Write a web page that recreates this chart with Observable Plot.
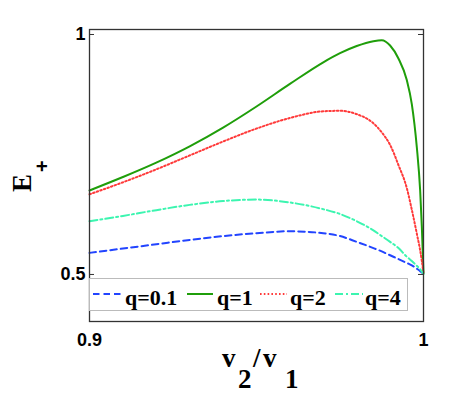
<!DOCTYPE html>
<html><head><meta charset="utf-8">
<script src="https://cdn.jsdelivr.net/npm/d3@7"></script>
<script src="https://cdn.jsdelivr.net/npm/@observablehq/plot@0.6"></script>
<style>body{margin:0;background:#fff}</style>
</head><body><div id="chart"></div>
<script>
const xs = [0.9, 0.91, 0.92, 0.93, 0.94, 0.95, 0.96, 0.97, 0.975, 0.98, 0.985, 0.9875, 0.99, 0.9925, 0.995, 0.9965, 0.998, 0.999, 0.9995, 1.0];
const q01 = [0.545, 0.554, 0.563, 0.572, 0.580, 0.586, 0.590, 0.586, 0.580, 0.568, 0.555, 0.548, 0.540, 0.532, 0.524, 0.519, 0.512, 0.507, 0.504, 0.501];
const q1  = [0.675, 0.703, 0.733, 0.767, 0.806, 0.850, 0.897, 0.942, 0.961, 0.976, 0.986, 0.988, 0.977, 0.950, 0.905, 0.855, 0.765, 0.675, 0.600, 0.502];
const q2  = [0.667, 0.692, 0.719, 0.748, 0.777, 0.804, 0.826, 0.840, 0.841, 0.834, 0.815, 0.796, 0.770, 0.728, 0.680, 0.635, 0.585, 0.550, 0.528, 0.502];
const q4  = [0.611, 0.622, 0.634, 0.645, 0.653, 0.656, 0.650, 0.636, 0.626, 0.611, 0.592, 0.580, 0.568, 0.555, 0.537, 0.528, 0.518, 0.511, 0.506, 0.501];
const seriesNames = ["q=0.1", "q=1", "q=2", "q=4"];
const seriesValues = [q01, q1, q2, q4];
const xTicks = [0.9, 1];
const yTicks = [0.5, 1];

const colors = ["#2244ff", "#1f9e0a", "#ff3a3a", "#3cf5b0"];
const dashes = ["6.5,4", null, "1.6,2.2", "8,3,2,3"];
const widths = [2, 2, 2, 2];

const W = 468, H = 394, ML = 89, MR = 45, MT = 29, MB = 73;
const plotW = W - ML - MR;

const lineMarks = seriesNames.map((name, i) =>
  Plot.line(xs.map((x, j) => ({x, y: seriesValues[i][j]})), {
    x: "x", y: "y", stroke: colors[i], strokeWidth: widths[i],
    strokeDasharray: dashes[i], curve: "monotone-x"
  })
);

const chart = Plot.plot({
  width: W, height: H,
  marginLeft: ML, marginRight: MR, marginTop: MT, marginBottom: MB,
  x: {domain: [0.9, 1]},
  y: {domain: [0.402, 1.0104]},
  style: {fontFamily: "Liberation Sans, Arial, sans-serif", fontSize: "18px", fontWeight: "bold", color: "#000", background: "#fff"},
  marks: [
    ...lineMarks,
    Plot.tickY(yTicks, {y: d => d, insetRight: plotW - 5, stroke: "#333"}),
    Plot.tickY(yTicks, {y: d => d, insetLeft: plotW - 5, stroke: "#333"}),
    Plot.frame({stroke: "#333", strokeWidth: 1.3}),
    Plot.axisX({ticks: xTicks, tickSize: 0, tickPadding: 12, tickFormat: d => String(d), label: null, fill: "#000"}),
    Plot.axisY({ticks: yTicks, tickSize: 0, tickPadding: 4, tickFormat: d => String(d), label: null, fill: "#000"})
  ]
});
document.getElementById("chart").appendChild(chart);

const svg = d3.select(chart);
const serif = "font-family:'Liberation Serif','Times New Roman',serif;font-weight:bold;text-anchor:start;";

// Legend
const lg = svg.append("g").attr("text-anchor", "start");
lg.append("rect").attr("x", 89.5).attr("y", 278.5).attr("width", 318).attr("height", 32)
  .attr("fill", "#fff").attr("stroke", "#bbb").attr("stroke-width", 1);
const legX = [[93, 122, 125], [187, 213, 217], [260, 287, 290], [335, 363, 365]];
seriesNames.forEach((name, i) => {
  lg.append("line").attr("x1", legX[i][0]).attr("x2", legX[i][1]).attr("y1", 294).attr("y2", 294)
    .attr("stroke", colors[i]).attr("stroke-width", widths[i]).attr("stroke-dasharray", dashes[i]);
  lg.append("text").attr("x", legX[i][2]).attr("y", 304.5).text(name)
    .attr("style", serif + "font-size:22px;fill:#000");
});

// X label v2/v1
const xl = svg.append("text").attr("style", serif + "font-size:27px;fill:#000");
xl.append("tspan").attr("x", 222).attr("y", 367).text("v");
xl.append("tspan").attr("x", 238).attr("y", 388).text("2");
xl.append("tspan").attr("x", 253).attr("y", 367).text("/");
xl.append("tspan").attr("x", 263).attr("y", 367).text("v");
xl.append("tspan").attr("x", 285).attr("y", 388).text("1");

// Y label E+
const yl = svg.append("text").attr("transform", "translate(31,192) rotate(-90)")
  .attr("style", serif + "font-size:27px;fill:#000");
yl.append("tspan").attr("x", 0).attr("y", 0).text("E");
yl.append("tspan").attr("x", 20).attr("y", 18)
  .attr("style", "font-family:'Liberation Sans',Arial,sans-serif;font-size:20px;font-weight:bold").text("+");
</script>
</body></html>
